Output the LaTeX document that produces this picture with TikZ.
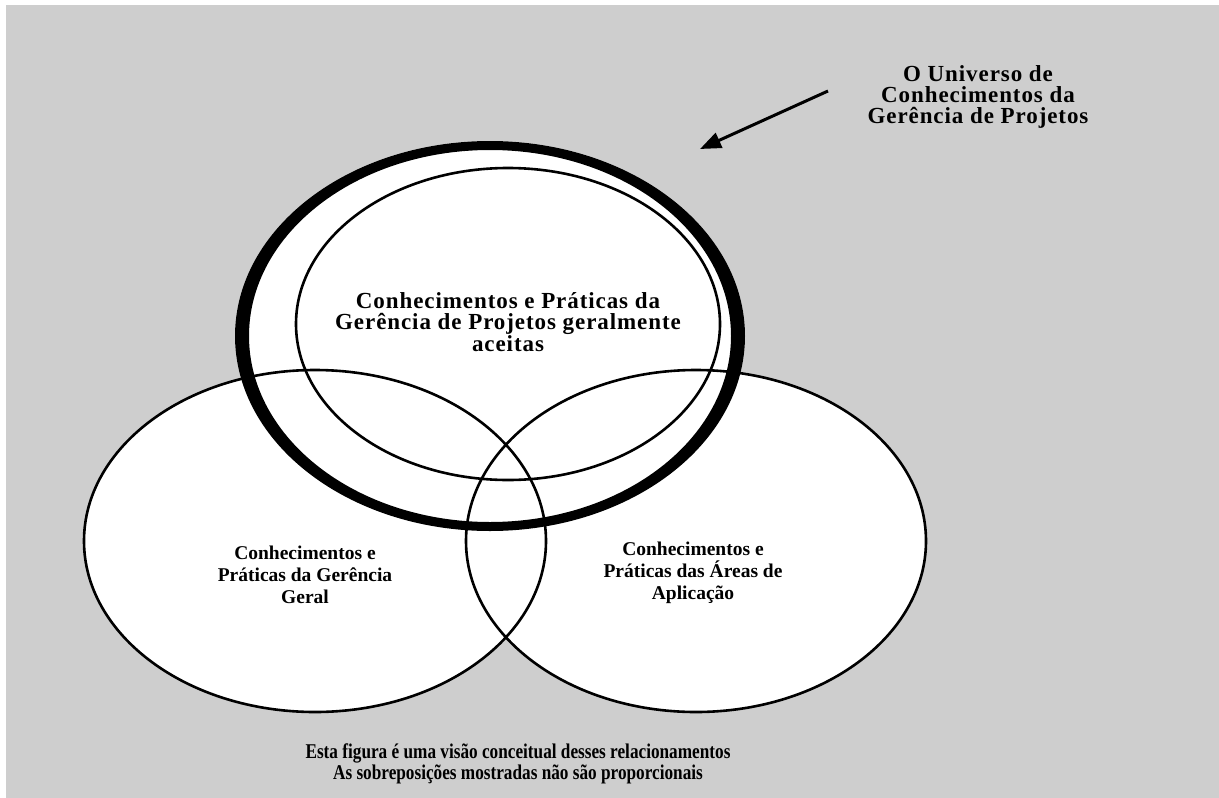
\documentclass[tikz,border=0pt]{standalone}
\usepackage{graphicx}
\usepackage{fontspec}
\setmainfont{Liberation Serif}
\newfontfamily\widefont[LetterSpace=4]{Liberation Serif}
\usetikzlibrary{arrows.meta}
\definecolor{panel}{RGB}{206,206,206}
\begin{document}
\begin{tikzpicture}[x=1pt,y=-1pt,
  outline/.style={draw=black, line width=2.6pt},
  wlabel/.style={align=center, inner sep=0pt,
    font=\widefont\bfseries\fontsize{23}{21}\selectfont},
  plabel/.style={align=center, inner sep=0pt,
    font=\bfseries\fontsize{19.5}{22}\selectfont},
  nlabel/.style={align=center, inner sep=0pt,
    font=\bfseries\fontsize{21}{21.5}\selectfont},
]
\useasboundingbox (0,0) rectangle (1219,798);
\fill[white] (0,0) rectangle (1219,798);
\fill[panel] (6,5) rectangle (1219,798);

% white interiors of the three sets
\fill[white] (490,336) ellipse [x radius=255, y radius=195];
\fill[white] (315,541) ellipse [x radius=231, y radius=171];
\fill[white] (696,541) ellipse [x radius=230, y radius=171];

% general management and application areas
\draw[outline] (315,541) ellipse [x radius=231, y radius=171];
\draw[outline] (696,541) ellipse [x radius=230, y radius=171];

% generally accepted knowledge
\draw[outline] (508,324) ellipse [x radius=212, y radius=156];

% thick ring: the project management universe
\fill[black, even odd rule]
  (490,336) ellipse [x radius=255, y radius=195]
  (490,336) ellipse [x radius=241, y radius=186];

% labels
\node[wlabel] (title) at (978,97) {O Universo de\\Conhecimentos da\\Gerência de Projetos};
\node[wlabel] (core) at (508,322) {Conhecimentos e Práticas da\\Gerência de Projetos geralmente\\aceitas};
\node[plabel] (general) at (305,575) {Conhecimentos e\\Práticas da Gerência\\Geral};
\node[plabel] (application) at (693,573) {Conhecimentos e\\Práticas das Áreas de\\Aplicação};
\node[nlabel] (note) at (518,764)
  {\scalebox{0.82}[1]{Esta figura é uma visão conceitual desses relacionamentos}\\
   \scalebox{0.82}[1]{As sobreposições mostradas não são proporcionais}};

% pointer from the title to the ring
\coordinate (tail) at (828,91);
\coordinate (tip) at (700,149);
\draw[line width=3pt, -{Triangle[length=21pt,width=16pt]}] (tail) -- (tip);
\end{tikzpicture}
\end{document}
